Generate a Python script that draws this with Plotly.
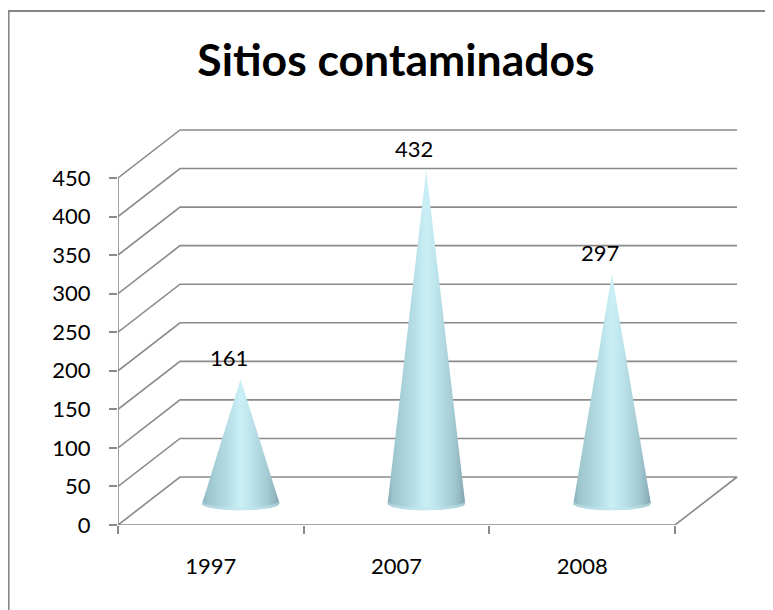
import numpy as np
import plotly.graph_objects as go

# ---- data ----
categories = ["1997", "2007", "2008"]
values = [161, 432, 297]
y_ticks = [0, 50, 100, 150, 200, 250, 300, 350, 400, 450]
title_text = "Sitios contaminados"

# ---- pseudo-3D geometry (in axis units) ----
DX = 0.334      # depth offset along category axis
DY = 62.25      # depth offset along value axis
CONE_DX = 0.16  # cone placement inside the depth
CONE_DY = 28.0
CONE_HALF_W = 0.21
CONE_ELL_H = 9.0

GRID = "#8a8a8a"
LW = 1.6

# page body has an 8px margin: figure is offset by (8, 8)
W, H = 765, 602
ML, MT = 110, 112
MR = W - 737
MB = H - 517
PW = W - ML - MR
PH = H - MT - MB


def px_x(px):
    return (px - ML) / PW


def px_y(py):
    return (MT + PH - py) / PH


fig = go.Figure()

# gridlines (side wall + back wall), floor and front value axis
gx, gy = [], []
for v in y_ticks[1:]:
    gx += [-0.5, -0.5 + DX, 2.5 + DX, None]
    gy += [v, v + DY, v + DY, None]
gx += [-0.5, -0.5 + DX, 2.5 + DX, 2.5, -0.5, None]
gy += [0, DY, DY, 0, 0, None]
gx += [-0.5, -0.5]
gy += [0, y_ticks[-1]]
fig.add_trace(go.Scatter(x=gx, y=gy, mode="lines",
                         line=dict(color=GRID, width=LW),
                         hoverinfo="skip", showlegend=False))

cone_scale = [[0.0, "#86adb7"], [0.07, "#9cc5ce"], [0.3, "#b2dae3"],
              [0.5, "#caeff7"], [0.62, "#bee5ed"], [0.85, "#a3cad3"],
              [0.95, "#8fb4bd"], [1.0, "#7c9fa8"]]

annotations = []
for i, v in enumerate(values):
    cx = i + CONE_DX
    cy = CONE_DY
    t = np.linspace(np.pi, 2 * np.pi, 48)
    ex = cx + CONE_HALF_W * np.cos(t)
    ey = cy + CONE_ELL_H * np.sin(t)
    xs = [cx] + list(ex) + [cx]
    ys = [cy + v] + list(ey) + [cy + v]
    fig.add_trace(go.Scatter(
        x=xs, y=ys, mode="lines", fill="toself",
        fillgradient=dict(type="horizontal", colorscale=cone_scale),
        line=dict(width=0, color="rgba(0,0,0,0)"),
        hoverinfo="skip", showlegend=False))
    # subtle light rim along the base
    t2 = t[::-1]
    rx = list(ex) + list(cx + CONE_HALF_W * 0.98 * np.cos(t2))
    ry = list(ey) + list(cy + 2.5 + CONE_ELL_H * 0.85 * np.sin(t2))
    fig.add_trace(go.Scatter(
        x=rx, y=ry, mode="lines", fill="toself",
        fillcolor="rgba(195,230,238,0.55)",
        line=dict(width=0, color="rgba(0,0,0,0)"),
        hoverinfo="skip", showlegend=False))
    annotations.append(dict(x=cx, y=cy + v, xref="x", yref="y", text=str(v),
                            showarrow=False, xanchor="center", yanchor="bottom",
                            xshift=-12, yshift=6,
                            font=dict(size=22, color="black")))

fig.update_layout(
    width=W, height=H,
    margin=dict(l=ML, r=MR, t=MT, b=MB),
    paper_bgcolor="white", plot_bgcolor="white",
    font=dict(family="Lato, 'Open Sans', sans-serif", color="black", size=22),
    title=dict(text="<b>" + title_text + "</b>", x=388 / W, xanchor="center",
               y=1 - 52 / H, yanchor="middle", yref="container",
               font=dict(size=44.5, color="black")),
    xaxis=dict(range=[-0.5, 2.877], tickmode="array", tickvals=[0, 1, 2],
               ticktext=categories, ticks="", showgrid=False, zeroline=False,
               showline=False, ticklabelstandoff=26,
               minor=dict(tickmode="array", tickvals=[-0.5, 0.5, 1.5, 2.5],
                          ticks="outside", ticklen=8, tickcolor=GRID,
                          tickwidth=LW, showgrid=False)),
    yaxis=dict(range=[0, 525.2], tickmode="array", tickvals=y_ticks,
               ticks="outside", ticklen=8, tickcolor=GRID, tickwidth=LW,
               showgrid=False, zeroline=False, showline=False,
               ticklabelstandoff=14),
    annotations=annotations,
    shapes=[dict(type="path", xref="paper", yref="paper",
                 path="M %f %f L %f %f L %f %f" % (
                     px_x(0.6), px_y(H + 20),
                     px_x(0.6), px_y(3),
                     px_x(W + 20), px_y(3)),
                 line=dict(color="#868686", width=2))],
)

fig.write_html("out.html")
